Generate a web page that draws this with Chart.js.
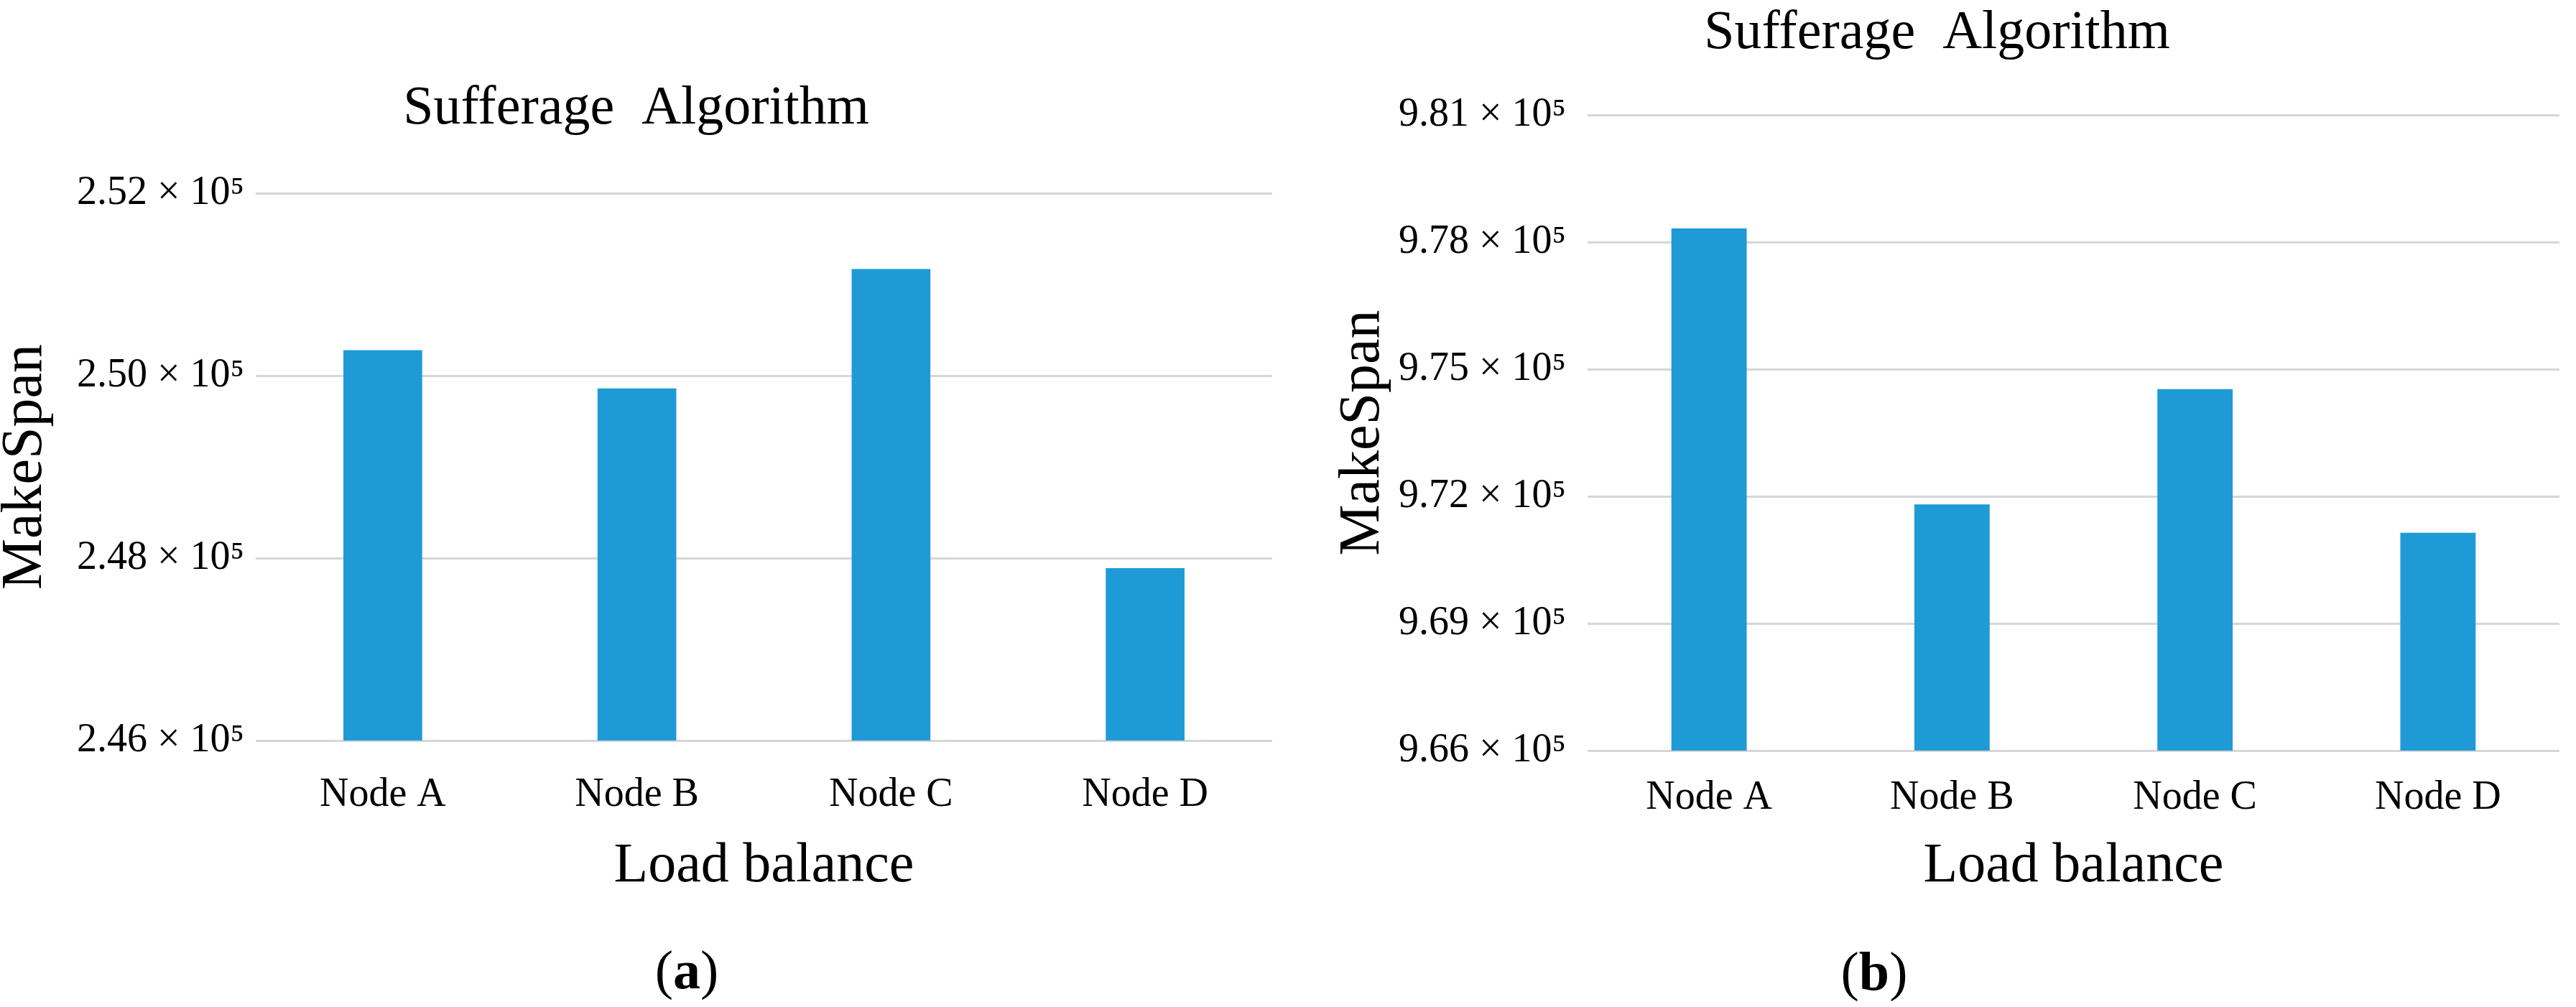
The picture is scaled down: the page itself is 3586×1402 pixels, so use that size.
<!DOCTYPE html>
<html>
<head>
<meta charset="utf-8">
<script src="https://cdn.jsdelivr.net/npm/chart.js@4.4.0/dist/chart.umd.min.js"></script>
<style>
    body { margin: 0; background: #fff; width: 3586px; height: 1402px; position: relative; overflow: hidden; }
    .box { position: absolute; top: 0; height: 1253px; }
    .cap { position: absolute; font-family: 'Liberation Serif', 'Times New Roman', serif; font-size: 76px; line-height: 1; transform: translate(-50%, -50%); color: #000; }
</style>
</head>
<body>
<div class="box" style="left:0px;width:1776px;"><canvas id="chartA"></canvas></div>
<div class="box" style="left:1830px;width:1744px;"><canvas id="chartB"></canvas></div>
<div class="cap" style="left:956px;top:1350px;">(<b>a</b>)</div>
<div class="cap" style="left:2609px;top:1352px;">(<b>b</b>)</div>
<script>
const nodes = ['Node A', 'Node B', 'Node C', 'Node D'];

// (a) makespan per node
const valuesA = [250280, 249860, 251170, 247890];
const ticksA = [246000, 248000, 250000, 252000];

// (b) makespan per node
const valuesB = [978320, 971810, 974530, 971140];
const ticksB = [966000, 969000, 972000, 975000, 978000, 981000];

const serif = '"Liberation Serif", "Times New Roman", serif';
const barColor = 'rgb(30,155,215)';

Chart.defaults.font.family = serif;
Chart.defaults.color = '#000';

function sci(v) {
    return (v / 100000).toFixed(2) + ' \u00d7 10\u2075';
}

function makeChart(id, values, ticks, opt) {
    const ctx = document.getElementById(id).getContext('2d');
    return new Chart(ctx, {
        type: 'bar',
        data: {
            labels: nodes,
            datasets: [{
                data: values,
                backgroundColor: barColor,
                borderWidth: 0,
                categoryPercentage: 1,
                barPercentage: opt.barPct
            }]
        },
        options: {
            responsive: true,
            maintainAspectRatio: false,
            animation: false,
            layout: { padding: { left: 0, right: opt.padRight, top: 0, bottom: 0 } },
            plugins: {
                legend: { display: false },
                tooltip: { enabled: false },
                title: {
                    display: true,
                    text: 'Sufferage  Algorithm',
                    color: '#000',
                    font: { family: serif, size: 76, weight: 'normal', lineHeight: 1.2 },
                    padding: { top: opt.titleTop, bottom: opt.titleBottom }
                }
            },
            scales: {
                x: {
                    grid: { display: false, drawTicks: false },
                    border: { display: false },
                    ticks: {
                        color: '#000',
                        padding: opt.xPad,
                        font: { family: serif, size: 56, lineHeight: 1.2 }
                    },
                    title: {
                        display: true,
                        text: 'Load balance',
                        color: '#000',
                        font: { family: serif, size: 78, lineHeight: 1.2 },
                        padding: { top: 0, bottom: 0 }
                    },
                    afterFit: (s) => { s.height = opt.xHeight; }
                },
                y: {
                    min: ticks[0],
                    max: ticks[ticks.length - 1],
                    afterBuildTicks: (s) => { s.ticks = ticks.map(v => ({ value: v })); },
                    grid: { color: '#d6d6d6', lineWidth: 3, drawTicks: false },
                    border: { display: false },
                    ticks: {
                        color: '#000',
                        padding: opt.yPad,
                        font: { family: serif, size: 56 },
                        callback: (v) => sci(v)
                    },
                    title: {
                        display: true,
                        text: 'MakeSpan',
                        color: '#000',
                        font: { family: serif, size: 80, lineHeight: 0.9 },
                        padding: { top: opt.yTitlePad, bottom: 0 }
                    },
                    afterFit: (s) => { s.width = opt.yWidth; }
                }
            }
        }
    });
}

makeChart('chartA', valuesA, ticksA, {
    barPct: 0.31, padRight: 5, titleTop: 106.4, titleBottom: 71.4,
    xPad: 43, xHeight: 222, yPad: 16, yWidth: 356, yTitlePad: 0
});
makeChart('chartB', valuesB, ticksB, {
    barPct: 0.31, padRight: 11, titleTop: 1.4, titleBottom: 67.4,
    xPad: 33, xHeight: 208, yPad: 30, yWidth: 380, yTitlePad: 32
});
</script>
</body>
</html>
